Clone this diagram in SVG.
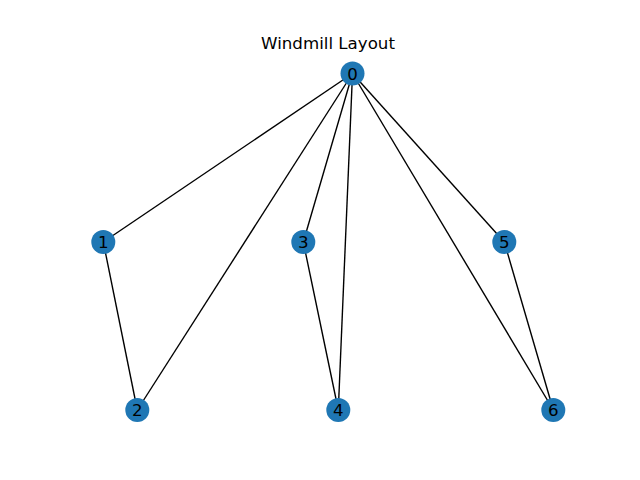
<svg xmlns="http://www.w3.org/2000/svg" width="640" height="480" viewBox="0 0 640 480">
<style>
.edge{stroke:#000;stroke-width:1.39;fill:none}
.node circle{fill:#1f77b4}
.node text{font-family:"DejaVu Sans",sans-serif;font-size:16.67px;fill:#000;text-anchor:middle}
.title{font-family:"DejaVu Sans",sans-serif;font-size:16.67px;fill:#000;text-anchor:middle}
</style>
<rect width="640" height="480" fill="#fff"/>
<text class="title" x="328" y="49.3">Windmill Layout</text>
<g id="edges">
<line class="edge" x1="352.5" y1="73.5" x2="103.3" y2="242"/>
<line class="edge" x1="352.5" y1="73.5" x2="137.3" y2="410"/>
<line class="edge" x1="352.5" y1="73.5" x2="303.3" y2="242"/>
<line class="edge" x1="352.5" y1="73.5" x2="338.3" y2="410"/>
<line class="edge" x1="352.5" y1="73.5" x2="504.3" y2="242"/>
<line class="edge" x1="352.5" y1="73.5" x2="553.3" y2="410"/>
<line class="edge" x1="103.3" y1="242" x2="137.3" y2="410"/>
<line class="edge" x1="303.3" y1="242" x2="338.3" y2="410"/>
<line class="edge" x1="504.3" y1="242" x2="553.3" y2="410"/>
</g>
<g id="node0" class="node"><circle cx="352.5" cy="73.5" r="12"/><text x="352.5" y="79.6">0</text></g>
<g id="node1" class="node"><circle cx="103.3" cy="242" r="12"/><text x="103.3" y="248.1">1</text></g>
<g id="node2" class="node"><circle cx="137.3" cy="410" r="12"/><text x="137.3" y="416.1">2</text></g>
<g id="node3" class="node"><circle cx="303.3" cy="242" r="12"/><text x="303.3" y="248.1">3</text></g>
<g id="node4" class="node"><circle cx="338.3" cy="410" r="12"/><text x="338.3" y="416.1">4</text></g>
<g id="node5" class="node"><circle cx="504.3" cy="242" r="12"/><text x="504.3" y="248.1">5</text></g>
<g id="node6" class="node"><circle cx="553.3" cy="410" r="12"/><text x="553.3" y="416.1">6</text></g>
</svg>
